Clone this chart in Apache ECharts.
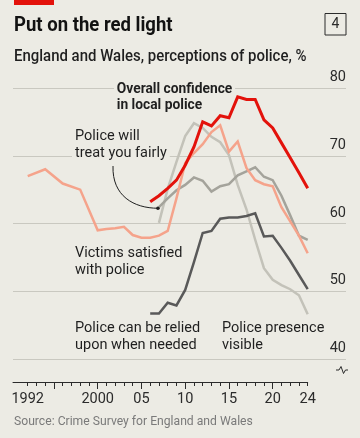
<!DOCTYPE html>
<html><head><meta charset="utf-8">
<script src="https://cdn.jsdelivr.net/npm/echarts@6/dist/echarts.min.js"></script>
<style>html,body{margin:0;padding:0;background:#ECEBE4;}#c{width:360px;height:438px;}</style>
</head><body><div id="c"></div>
<script>
// ---- data ----
const victimsYears = [1992,1994,1996,1998,2000,2001,2002,2003,2004,2005,2006,2007,2008,2009,2010,2011,2012,2013,2014,2015,2016,2017,2018,2019,2020,2021,2022,2023,2024];
const victimsSatisfied = [67.0,68.0,65.9,65.0,59.0,59.2,59.3,59.5,58.3,57.9,57.9,58.2,58.9,63.7,68.9,70.4,71.7,73.5,74.5,70.6,72.1,68.2,66.4,65.8,65.5,62.4,60.3,58.2,55.6];
const confidenceYears = [2006,2007,2008,2009,2010,2011,2012,2013,2014,2015,2016,2017,2018,2019,2020,2021,2022,2023,2024];
const overallConfidence = [63.2,64.1,65.2,66.4,68.6,71.3,75.0,74.4,75.9,75.6,78.7,78.3,78.3,75.3,74.1,71.9,69.7,67.5,65.2];
const reliedYears = [2006,2007,2008,2009,2010,2011,2012,2013,2014,2015,2016,2017,2018,2019,2020,2021,2022,2023,2024];
const reliedUpon = [46.7,46.7,48.3,47.9,50.2,54.3,58.6,58.9,60.7,60.9,60.9,61.1,61.5,58.1,58.2,56.4,54.5,52.4,50.3];
const fairYears = [2007,2008,2009,2010,2011,2012,2013,2014,2015,2016,2017,2018,2019,2020,2021,2022,2023,2024];
const treatFairly = [62.4,63.7,64.9,65.7,66.8,66.3,64.7,65.5,65.8,67.1,67.7,68.3,66.9,66.4,64.1,61.2,58.2,57.6];
const visibleYears = [2007,2008,2009,2010,2011,2012,2013,2014,2015,2016,2017,2018,2019,2020,2021,2022,2023,2024];
const presenceVisible = [60.1,65.1,69.1,72.9,74.8,74.1,72.8,72.0,70.1,65.7,62.1,57.6,53.4,51.7,50.9,50.3,49.4,46.6];
const xTickValues = [1992,2000,2005,2010,2015,2020,2024];
const xTickLabels = ['1992','2000','05','10','15','20','24'];
const minorTickYears = []; for (let y = 1992; y <= 2024; y++) minorTickYears.push(y);
const majorTickYears = [1995,2000,2005,2010,2015,2020];
const yMin = 40, yMax = 80, yStep = 10;

// ---- style ----
const BG = '#ECEBE4';
const FONT = 'Roboto';
const X_MIN = 1992 - 14.7 / 8.75;

const zip = (xs, vs) => xs.map((x, i) => [x, vs[i]]);
const chart = echarts.init(document.getElementById('c'), null, {renderer: 'canvas'});

function lineSeries(name, xs, vs, color, width, z) {
  return {name, type: 'line', xAxisIndex: 1, yAxisIndex: 1, data: zip(xs, vs),
    showSymbol: false, symbol: 'none', clip: false, z,
    lineStyle: {color, width, cap: 'butt', join: 'miter'}};
}

const option = {
  backgroundColor: BG,
  animation: false,
  grid: [
    {left: 13, right: 14, top: 88, height: 271},
    {left: 13, right: 52.3, top: 88, height: 271}
  ],
  xAxis: [
    {gridIndex: 0, type: 'value', min: 0, max: 1, show: false},
    {gridIndex: 1, type: 'value', min: X_MIN, max: 2024, position: 'bottom', offset: 23,
      axisLine: {show: true, lineStyle: {color: '#2b2b2b', width: 1}},
      axisTick: {show: true, customValues: minorTickYears, length: 4, lineStyle: {color: '#2b2b2b', width: 1}},
      axisLabel: {customValues: xTickValues, formatter: v => xTickLabels[xTickValues.indexOf(v)],
        color: '#2b2b2b', fontSize: 14.5, fontFamily: FONT, margin: 10},
      splitLine: {show: false}},
    {gridIndex: 1, type: 'value', min: X_MIN, max: 2024, position: 'bottom', offset: 23,
      axisLine: {show: false},
      axisTick: {show: true, customValues: majorTickYears, length: 7, lineStyle: {color: '#2b2b2b', width: 1}},
      axisLabel: {show: false}, splitLine: {show: false}}
  ],
  yAxis: [
    {gridIndex: 0, type: 'value', min: yMin, max: yMax, interval: yStep, position: 'right',
      axisLine: {show: false}, axisTick: {show: false},
      splitLine: {show: true, lineStyle: {color: '#C9C8C0', width: 1}},
      axisLabel: {inside: true, margin: 0, color: '#2b2b2b', fontSize: 14.5, fontFamily: FONT,
        verticalAlign: 'bottom', padding: [0, 0, 3, 0]}},
    {gridIndex: 1, type: 'value', min: yMin, max: yMax, show: false}
  ],
  series: [
    lineSeries('Police presence visible', visibleYears, presenceVisible, '#C3C2B9', 2.5, 2),
    lineSeries('Police will treat you fairly', fairYears, treatFairly, '#A4A39B', 2.5, 3),
    lineSeries('Police can be relied upon when needed', reliedYears, reliedUpon, '#595959', 2.5, 4),
    lineSeries('Victims satisfied with police', victimsYears, victimsSatisfied, '#F5A38B', 2.5, 5),
    lineSeries('Overall confidence in local police', confidenceYears, overallConfidence, '#E3120B', 3, 6)
  ]
};
chart.setOption(option);

const p0 = chart.convertToPixel({gridIndex: 1}, [fairYears[0], treatFairly[0]]);
function label(text, x, y, opts) {
  return {type: 'text', x, y, z: 1,
    style: Object.assign({text, fill: '#1f1f1f', font: '14.5px ' + FONT, lineHeight: 17,
      align: 'left', verticalAlign: 'top', backgroundColor: BG, padding: [0, 3, 0, 3]}, opts || {})};
}
chart.setOption({
  graphic: [
    {type: 'rect', shape: {x: 14, y: 0, width: 40, height: 5}, style: {fill: '#E3120B'}},
    {type: 'text', x: 14, y: 26, scaleX: 0.95, style: {text: 'Put on the red light', fill: '#121212',
      font: 'bold 19.5px ' + FONT, verticalAlign: 'middle'}},
    {type: 'rect', shape: {x: 325, y: 13.5, width: 21, height: 21.5}, style: {fill: 'none', stroke: '#2b2b2b', lineWidth: 1}},
    {type: 'text', x: 335.5, y: 24.5, style: {text: '4', fill: '#2b2b2b', font: '14px ' + FONT, align: 'center', verticalAlign: 'middle'}},
    {type: 'text', x: 14, y: 57, scaleX: 0.935, style: {text: 'England and Wales, perceptions of police, %', fill: '#1f1f1f',
      font: '500 16px ' + FONT, verticalAlign: 'middle'}},
    Object.assign(label('Overall confidence\nin local police', 114, 81, {font: 'bold 15px ' + FONT, lineHeight: 16}), {scaleX: 0.92}),
    label('Police will\ntreat you fairly', 72, 128),
    label('Victims satisfied\nwith police', 72, 245),
    label('Police can be relied\nupon when needed', 72, 320),
    label('Police presence\nvisible', 219, 320),
    {type: 'bezierCurve', z: 21, shape: {x1: 113, y1: 166, cpx1: 112, cpy1: 196, cpx2: 134, cpy2: p0[1] + 1, x2: p0[0] - 1, y2: p0[1] + 1},
      style: {stroke: '#1f1f1f', lineWidth: 1, fill: 'none'}},
    {type: 'circle', z: 21, shape: {cx: p0[0] - 1, cy: p0[1] + 1, r: 1.8}, style: {fill: '#1f1f1f'}},
    {type: 'polyline', shape: {points: [[336, 370], [339, 370], [341, 366.5], [343.5, 373.5], [345.5, 370], [348, 370]]},
      style: {stroke: '#2b2b2b', lineWidth: 1, fill: 'none'}},
    {type: 'text', x: 14, y: 422, scaleX: 0.95, style: {text: 'Source: Crime Survey for England and Wales', fill: '#7a7a7a',
      font: '12.8px ' + FONT, verticalAlign: 'middle'}}
  ]
});
</script></body></html>
